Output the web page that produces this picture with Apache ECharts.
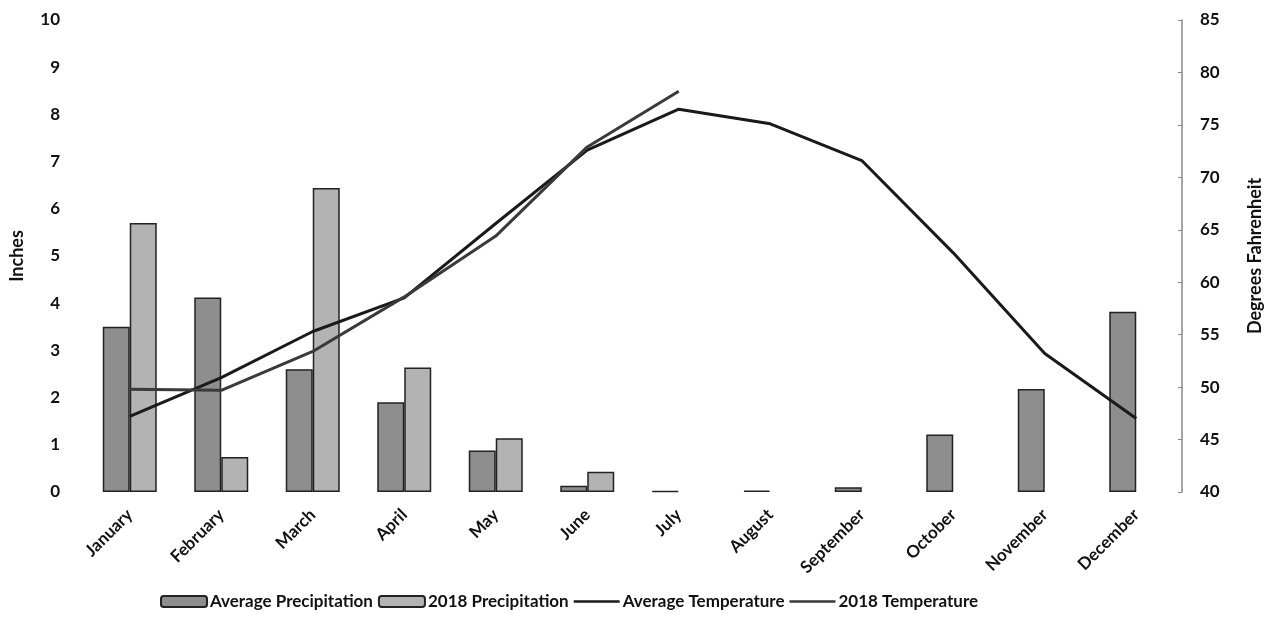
<!DOCTYPE html>
<html>
<head>
<meta charset="utf-8">
<script src="https://cdn.jsdelivr.net/npm/echarts@6/dist/echarts.min.js"></script>
<style>
html,body{margin:0;padding:0;background:#fff;}
#chart{width:1272px;height:638px;}
</style>
</head>
<body>
<div id="chart"></div>
<script>
const months = ['January','February','March','April','May','June','July','August','September','October','November','December'];
const avgPrecip = [3.5, 4.12, 2.6, 1.9, 0.88, 0.13, 0.02, 0.03, 0.1, 1.22, 2.18, 3.82];
const precip2018 = [5.7, 0.74, 6.44, 2.64, 1.14, 0.43, null, null, null, null, null, null];
const avgTemp = [47.2, 50.9, 55.3, 58.5, 65.6, 72.6, 76.5, 75.1, 71.6, 62.8, 53.2, 47.0];
const temp2018 = [49.8, 49.7, 53.4, 58.6, 64.4, 72.9, 78.2, null, null, null, null, null];
const leftTicks = [0, 10, 1];
const rightTicks = [40, 85, 5];

const FONT = 'Lato, "Open Sans", sans-serif';
const LINE_ICON = 'path://M0,0 L1,0 L1,0.001 Z M0,4.3 L46,4.3 L46,6.7 L0,6.7 Z M45,11 L46,11 L46,10.999 Z';
const chart = echarts.init(document.getElementById('chart'));
chart.setOption({
  animation: false,
  backgroundColor: '#fff',
  grid: {left: 82, right: 82, top: 20, bottom: 146, containLabel: false},
  legend: {
    top: 588, left: 155,
    itemWidth: 46, itemHeight: 11, itemGap: 5,
    textStyle: {fontFamily: FONT, fontWeight: 'bold', fontSize: 17, color: '#111', padding: [0, 0, 0, -2]},
    data: [
      {name: 'Average Precipitation'},
      {name: '2018 Precipitation'},
      {name: 'Average Temperature', icon: LINE_ICON, itemStyle: {color: '#1a1a1a', borderWidth: 0}},
      {name: '2018 Temperature', icon: LINE_ICON, itemStyle: {color: '#3a3a3a', borderWidth: 0}}
    ]
  },
  xAxis: {
    type: 'category', data: months,
    axisLine: {show: false}, axisTick: {show: false},
    axisLabel: {rotate: 45, fontFamily: FONT, fontWeight: 'bold', fontSize: 17, color: '#111', margin: 20, interval: 0}
  },
  yAxis: [{
    type: 'value', min: leftTicks[0], max: leftTicks[1], interval: leftTicks[2],
    name: 'Inches', nameLocation: 'middle', nameGap: 58, nameRotate: 90,
    nameTextStyle: {fontFamily: FONT, fontWeight: 'bold', fontSize: 18, color: '#111'},
    axisLine: {show: false}, axisTick: {show: false}, splitLine: {show: false},
    axisLabel: {fontFamily: FONT, fontWeight: 'bold', fontSize: 17, color: '#111', margin: 24}
  }, {
    type: 'value', min: rightTicks[0], max: rightTicks[1], interval: rightTicks[2],
    name: 'Degrees Fahrenheit', nameLocation: 'middle', nameGap: 64, nameRotate: 90,
    nameTextStyle: {fontFamily: FONT, fontWeight: 'bold', fontSize: 18, color: '#111'},
    axisLine: {show: true, lineStyle: {color: '#888', width: 1.5}},
    axisTick: {show: true, inside: true, length: 4, lineStyle: {color: '#888'}},
    splitLine: {show: false},
    axisLabel: {fontFamily: FONT, fontWeight: 'bold', fontSize: 17, color: '#111', margin: 18}
  }],
  series: [{
    name: 'Average Precipitation', type: 'bar', data: avgPrecip,
    barGap: '0%', barCategoryGap: '41%',
    itemStyle: {color: '#8e8e8e', borderColor: '#222', borderWidth: 1.5}
  }, {
    name: '2018 Precipitation', type: 'bar', data: precip2018,
    itemStyle: {color: '#b3b3b3', borderColor: '#222', borderWidth: 1.5}
  }, {
    name: 'Average Temperature', type: 'line', yAxisIndex: 1, data: avgTemp,
    symbol: 'none', lineStyle: {color: '#1a1a1a', width: 3},
    itemStyle: {color: '#1a1a1a'}
  }, {
    name: '2018 Temperature', type: 'line', yAxisIndex: 1, data: temp2018,
    symbol: 'none', lineStyle: {color: '#3a3a3a', width: 3},
    itemStyle: {color: '#3a3a3a'}
  }]
});
</script>
</body>
</html>
